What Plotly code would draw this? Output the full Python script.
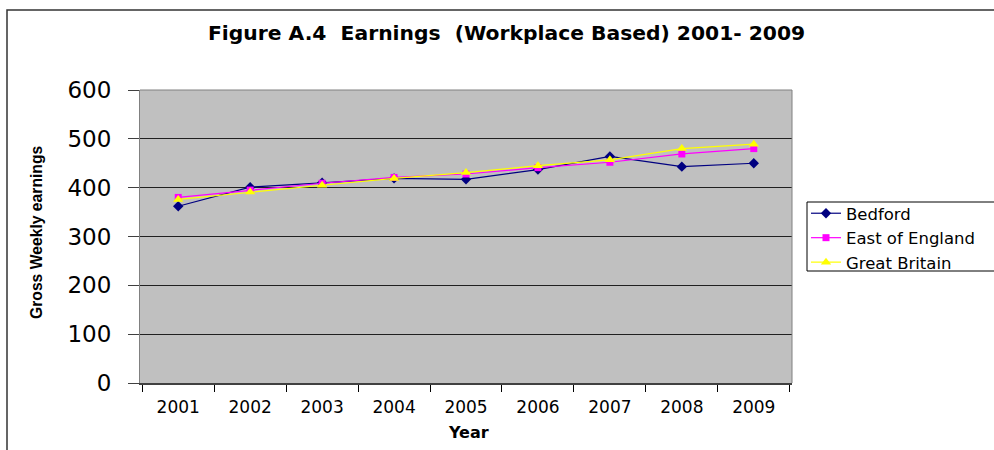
import plotly.graph_objects as go

# Gross weekly earnings (workplace based), 2001-2009
years = ["2001", "2002", "2003", "2004", "2005", "2006", "2007", "2008", "2009"]
bedford = [362, 401, 410, 419, 417, 437, 464, 443, 450]
east_of_england = [380, 395, 409, 421, 428, 441, 452, 469, 480]
great_britain = [376, 391, 405, 419, 431, 445, 457, 480, 489]

series_names = ["Bedford", "East of England", "Great Britain"]
y_ticks = [0, 100, 200, 300, 400, 500, 600]

W, H = 994, 450
ML, MR, MT, MB = 140, 202, 90, 67
PW, PH = W - ML - MR, H - MT - MB


def px_x(x):
    return (x - ML) / PW


def px_y(y):
    return (H - MB - y) / PH


fig = go.Figure()

styles = [
    dict(color="#000080", symbol="diamond", size=8),
    dict(color="#FF00FF", symbol="square", size=7),
    dict(color="#FFFF00", symbol="triangle-up", size=9),
]

for name, vals, st in zip(series_names, [bedford, east_of_england, great_britain], styles):
    fig.add_trace(go.Scatter(
        x=years, y=vals, name=name, mode="lines+markers",
        line=dict(color=st["color"], width=1.2),
        marker=dict(symbol=st["symbol"], size=st["size"], color=st["color"],
                    line=dict(width=0)),
    ))

fig.update_layout(
    width=W, height=H,
    margin=dict(l=ML, r=MR, t=MT, b=MB),
    paper_bgcolor="white",
    plot_bgcolor="#C0C0C0",
    font=dict(family="DejaVu Sans", color="black"),
    showlegend=True,
    legend=dict(
        x=px_x(806), y=px_y(196), xanchor="left", yanchor="top",
        bgcolor="rgba(0,0,0,0)", borderwidth=0,
        font=dict(family="DejaVu Sans", size=16.5),
        tracegroupgap=0, itemwidth=30,
    ),
    xaxis=dict(
        type="category", tickvals=years, ticktext=years,
        tickfont=dict(size=17), ticks="outside", ticklen=7, tickcolor="black",
        tickson="boundaries", ticklabelstandoff=8,
        showline=True, linecolor="#404040", linewidth=2, mirror=False,
        showgrid=False, zeroline=False,
    ),
    yaxis=dict(
        range=[0, 600], tickvals=y_ticks,
        tickfont=dict(size=23), ticks="outside", ticklen=11, tickcolor="#404040",
        ticklabelstandoff=12,
        showgrid=True, gridcolor="#202020", gridwidth=1,
        showline=True, linecolor="#808080", linewidth=1,
        zeroline=False,
    ),
    shapes=[
        # outer chart frame
        dict(type="rect", xref="paper", yref="paper",
             x0=px_x(7), x1=px_x(1010), y0=px_y(470), y1=px_y(10),
             line=dict(color="#333333", width=1.5), fillcolor="rgba(0,0,0,0)",
             layer="below"),
        # plot area border (top and right)
        dict(type="line", xref="paper", yref="paper", x0=0, x1=1, y0=1, y1=1,
             line=dict(color="#808080", width=1)),
        dict(type="line", xref="paper", yref="paper", x0=1, x1=1, y0=0, y1=1,
             line=dict(color="#808080", width=1)),
        # legend box
        dict(type="rect", xref="paper", yref="paper",
             x0=px_x(807), x1=px_x(1010), y0=px_y(271), y1=px_y(202),
             line=dict(color="black", width=1), fillcolor="white",
             layer="above"),
    ],
    annotations=[
        dict(text="<b>Figure A.4\u00a0\u00a0Earnings\u00a0\u00a0(Workplace Based) 2001- 2009</b>",
             xref="paper", yref="paper", x=px_x(506), y=px_y(33),
             xanchor="center", yanchor="middle", showarrow=False,
             font=dict(family="DejaVu Sans", size=20.3)),
        dict(text="<b>Gross Weekly earnings</b>",
             xref="paper", yref="paper", x=px_x(36), y=px_y(233),
             xanchor="center", yanchor="middle", showarrow=False, textangle=-90,
             font=dict(family="Liberation Sans", size=15.7)),
        dict(text="<b>Year</b>",
             xref="paper", yref="paper", x=px_x(468), y=px_y(432),
             xanchor="center", yanchor="middle", showarrow=False,
             font=dict(family="DejaVu Sans", size=16)),
    ],
)

fig.write_html("out.html")
